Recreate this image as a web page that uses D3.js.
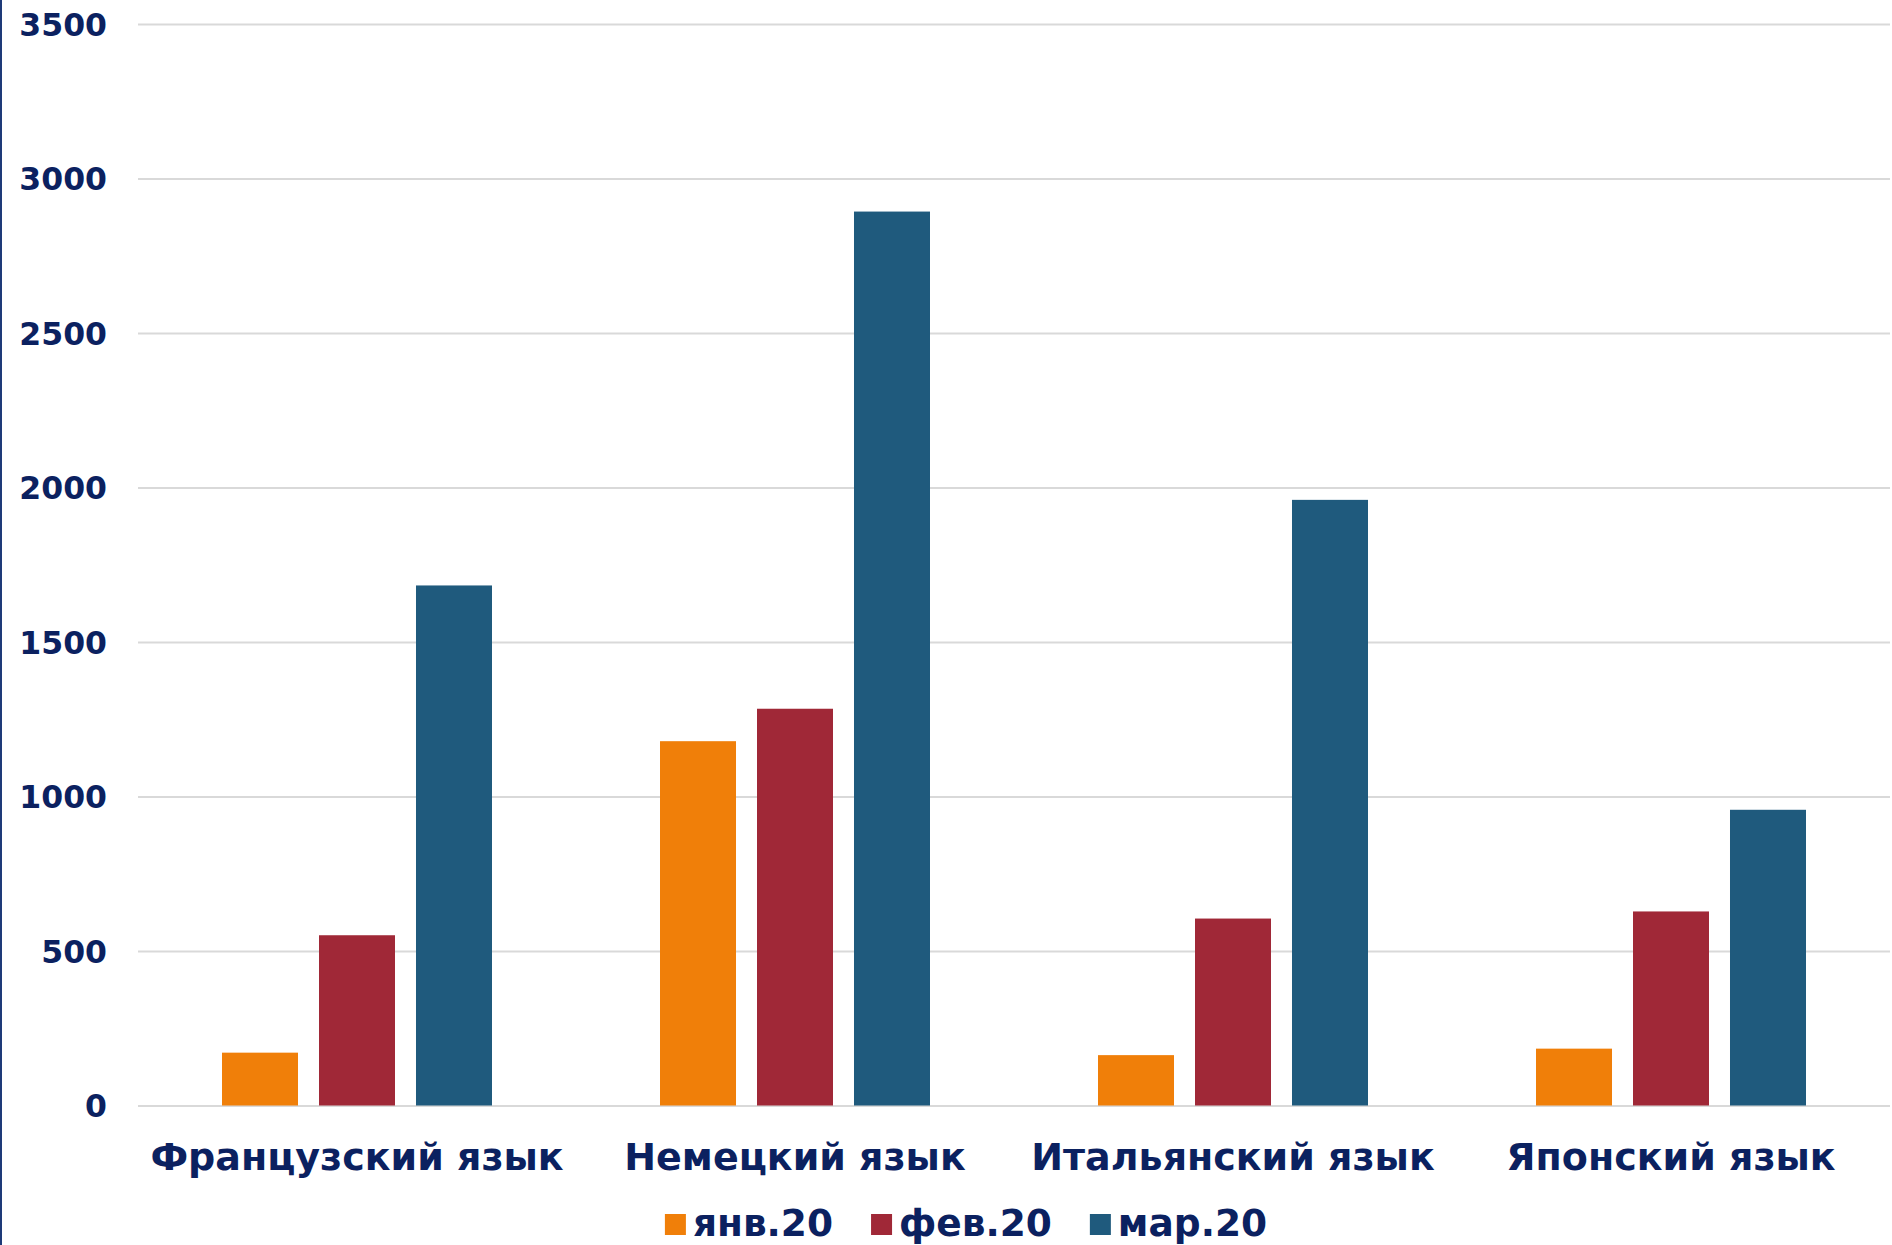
<!DOCTYPE html>
<html>
<head>
<meta charset="utf-8">
<script src="https://cdn.jsdelivr.net/npm/d3@7"></script>
<style>
  html, body { margin: 0; padding: 0; background: #ffffff; }
  svg { display: block; }
  text { font-family: "DejaVu Sans", Verdana, sans-serif; font-weight: bold; fill: #0B2160; }
</style>
</head>
<body>
<svg id="chart" width="1892" height="1245"></svg>
<script>
const categories = ["Французский язык", "Немецкий язык", "Итальянский язык", "Японский язык"];
const seriesNames = ["янв.20", "фев.20", "мар.20"];
const seriesColors = ["#F07F09", "#A02837", "#1F5A7D"];
const jan = [171, 1179, 163, 184];
const feb = [551, 1284, 605, 628];
const mar = [1683, 2893, 1960, 957];
const yTicks = [0, 500, 1000, 1500, 2000, 2500, 3000, 3500];

const seriesValues = [jan, feb, mar];
const data = categories.map((c, i) => ({
  category: c,
  values: seriesNames.map((s, j) => ({ series: s, value: seriesValues[j][i], color: seriesColors[j] }))
}));

const W = 1892, H = 1245;
const plot = { left: 138, right: 1890, top: 24, bottom: 1105.5 };

const svg = d3.select("#chart");

// left border line
svg.append("rect").attr("x", 0).attr("y", 0).attr("width", 2).attr("height", H).attr("fill", "#1E3A78");

const y = d3.scaleLinear().domain([0, 3500]).range([plot.bottom, plot.top]);
const pad = 0.3836;
const x0 = d3.scaleBand().domain(categories).range([plot.left, plot.right])
  .paddingInner(pad).paddingOuter(pad / 2);
const x1 = d3.scaleBand().domain(seriesNames).range([0, x0.bandwidth()])
  .paddingInner(0.2165).paddingOuter(0);

// gridlines
const yAxis = d3.axisLeft(y).tickValues(yTicks).tickFormat(d3.format("d"))
  .tickSize(-(plot.right - plot.left)).tickPadding(31);
const gy = svg.append("g").attr("transform", `translate(${plot.left},0)`).call(yAxis);
gy.select(".domain").remove();
gy.selectAll(".tick line").attr("stroke", "#D9D9D9").attr("stroke-width", 2);
gy.selectAll(".tick text").style("font-size", "31.5px").attr("fill", "#0B2160").attr("dy", "0.36em");

// bars
const groups = svg.append("g").selectAll("g").data(data).join("g")
  .attr("transform", d => `translate(${x0(d.category)},0)`);
groups.selectAll("rect").data(d => d.values).join("rect")
  .attr("x", d => x1(d.series))
  .attr("width", x1.bandwidth())
  .attr("y", d => y(d.value))
  .attr("height", d => y(0) - y(d.value))
  .attr("fill", d => d.color);

// category axis labels
const xAxis = d3.axisBottom(x0).tickSize(0).tickPadding(0);
const gx = svg.append("g").attr("transform", `translate(0,${plot.bottom})`).call(xAxis);
gx.select(".domain").remove();
gx.selectAll(".tick text").style("font-size", "38px").attr("fill", "#0B2160")
  .attr("dy", null).attr("y", 64.5);

// legend
const legend = svg.append("g");
const items = legend.selectAll("g").data(seriesNames).join("g");
items.append("rect").attr("width", 21).attr("height", 21).attr("y", -21.5)
  .attr("fill", (d, i) => seriesColors[i]);
items.append("text").attr("x", 28).attr("y", 0).style("font-size", "37.5px").text(d => d);
let widths = [];
items.each(function() { widths.push(28 + d3.select(this).select("text").node().getComputedTextLength()); });
const gap = 38;
const total = d3.sum(widths) + gap * (widths.length - 1);
let cx = 966 - total / 2;
items.each(function(d, i) {
  d3.select(this).attr("transform", `translate(${cx},1235.5)`);
  cx += widths[i] + gap;
});
</script>
</body>
</html>
